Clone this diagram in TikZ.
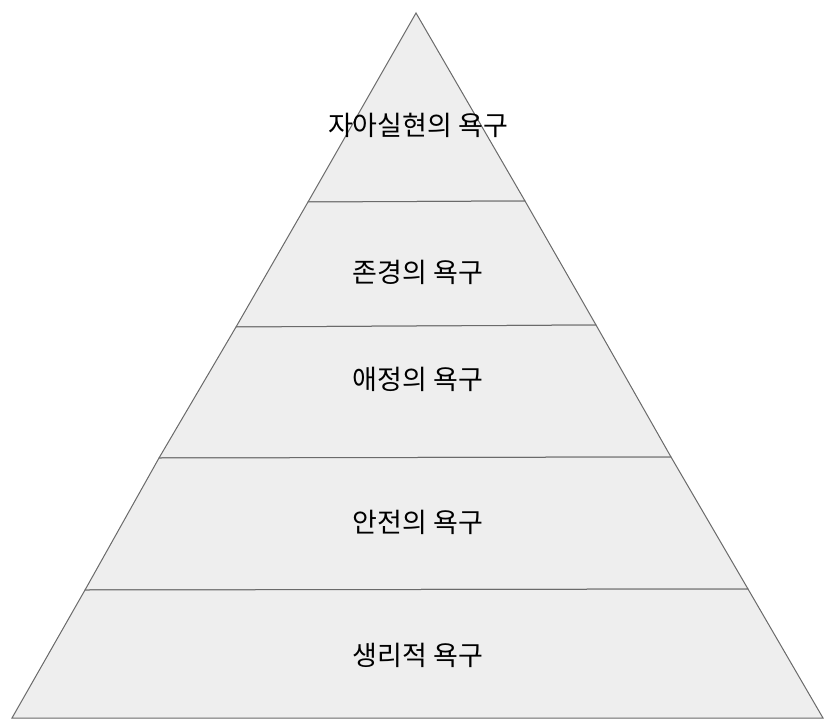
\documentclass[tikz,border=0pt]{standalone}
\usepackage{fontspec}
\newfontfamily\krfont{Noto Sans CJK KR}
\definecolor{layerfill}{HTML}{EEEEEE}
\definecolor{layerline}{HTML}{6A6A6A}
\begin{document}
\begin{tikzpicture}[x=1pt,y=-1pt,
  layer/.style={fill=layerfill,draw=layerline,line width=1pt,line join=miter},
  lbl/.style={font=\krfont\fontsize{27}{32}\selectfont,text=black,inner sep=0pt}]
\useasboundingbox (0,0) rectangle (835,725);
\fill[white] (0,0) rectangle (835,725);
% layers
\draw[layer] (416,13) -- (525,201) -- (308,202) -- cycle;
\draw[layer] (308,202) -- (525,201) -- (596,325) -- (236,327) -- cycle;
\draw[layer] (236,327) -- (596,325) -- (671,457) -- (159,458) -- cycle;
\draw[layer] (159,458) -- (671,457) -- (748,589) -- (85,590) -- cycle;
\draw[layer] (85,590) -- (748,589) -- (823,718) -- (12,718) -- cycle;
% labels
\node[lbl] (l5) at (418,125) {자아실현의 욕구};
\node[lbl] (l4) at (418,272) {존경의 욕구};
\node[lbl] (l3) at (418,379) {애정의 욕구};
\node[lbl] (l2) at (418,522) {안전의 욕구};
\node[lbl] (l1) at (418,655) {생리적 욕구};
\end{tikzpicture}
\end{document}
